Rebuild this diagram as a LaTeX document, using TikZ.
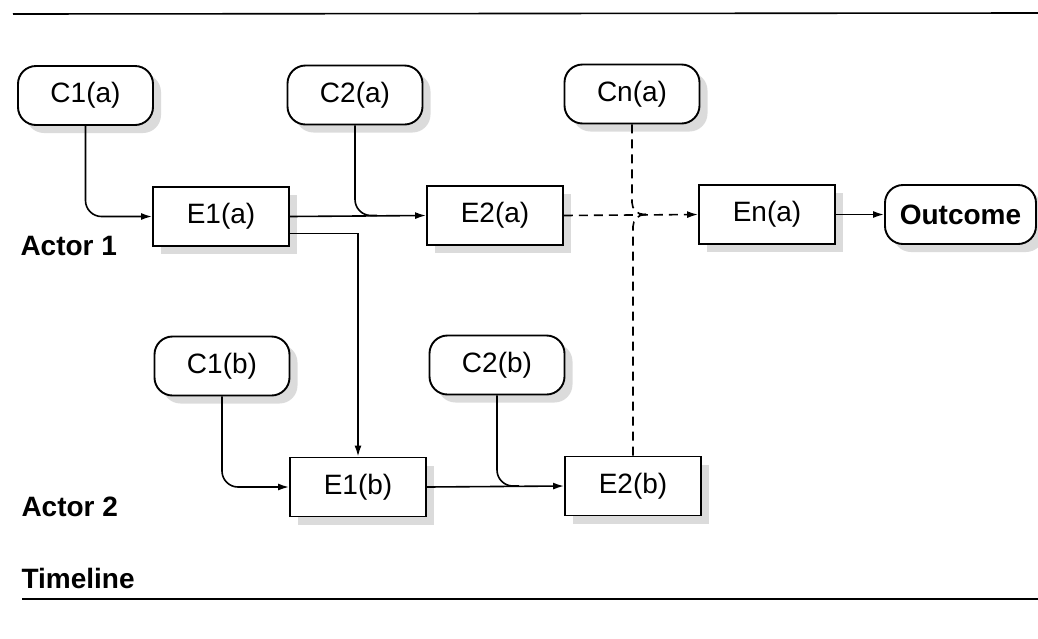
\documentclass[tikz,border=0pt]{standalone}
\usepackage{fontspec}
\setmainfont{Liberation Sans}
\usetikzlibrary{arrows.meta,shadows,calc}
\begin{document}
\begin{tikzpicture}[x=1pt,y=-1pt,
  font=\fontsize{28}{32}\selectfont,
  shad/.style={drop shadow={shadow xshift=8pt,shadow yshift=-8pt,fill=black!14,opacity=1}},
  cbox/.style={draw,line width=1.9pt,rounded corners=18pt,minimum width=135pt,minimum height=59pt,fill=white,shad},
  ebox/.style={draw,line width=1.9pt,minimum width=136pt,minimum height=59pt,fill=white,shad},
  lab/.style={anchor=west,font=\fontsize{28}{32}\selectfont\bfseries},
  conn/.style={line width=1.6pt},
  arr/.style={conn,-{Latex[length=11pt,width=7pt]}},
  dsh/.style={dash pattern=on 9pt off 6pt}
]
\useasboundingbox (0,0) rectangle (1038,638);
% rules
\coordinate (t1) at (13,14); \coordinate (t2) at (1038,13);
\coordinate (b1) at (22,599); \coordinate (b2) at (1038,599);
\draw[line width=1.6pt] (t1) -- (t2);
\draw[line width=1.6pt] (b1) -- (b2);
% nodes
\node[cbox] (c1a) at (85.5,95.5) {C1(a)};
\node[cbox] (c2a) at (355,95) {C2(a)};
\node[cbox] (cna) at (632,94) {Cn(a)};
\node[ebox] (e1a) at (221,216.5) {E1(a)};
\node[ebox] (e2a) at (495,215.5) {E2(a)};
\node[ebox] (ena) at (767,214.5) {En(a)};
\node[cbox,minimum width=151pt,font=\fontsize{28}{32}\selectfont\bfseries] (out) at (960.5,214.5) {Outcome};
\node[cbox] (c1b) at (222,366) {C1(b)};
\node[cbox] (c2b) at (497,365) {C2(b)};
\node[ebox] (e1b) at (358,487) {E1(b)};
\node[ebox] (e2b) at (633,486) {E2(b)};
\node[lab] (act1) at (17,246) {Actor 1};
\node[lab] (act2) at (18,507) {Actor 2};
\node[lab] (tl) at (18,578) {Timeline};
% connectors
\draw[arr,rounded corners=16pt] (c1a.south) |- (e1a.west);
\draw[arr] (e1a.east) -- (e2a.west);
\coordinate (m2a) at ($(c2a.south |- e2a.west)+(22,0)$);
\draw[conn,rounded corners=16pt] (c2a.south) |- (m2a);
\draw[arr] ([yshift=-17pt]e1a.east) -| (e1b.north);
\draw[arr,dsh] (e2a.east) -- (ena.west);
\coordinate (mna) at ($(cna.south |- ena.west)+(14,0)$);
\draw[conn,dsh,rounded corners=12pt] (cna.south) |- (mna);
\draw[conn,dsh,rounded corners=12pt] (e2b.north) |- (mna);
\draw[arr] (ena.east) -- (out.west);
\draw[arr,rounded corners=16pt] (c1b.south) |- (e1b.west);
\draw[arr] (e1b.east) -- (e2b.west);
\coordinate (m2b) at ($(c2b.south |- e2b.west)+(22,0)$);
\draw[conn,rounded corners=16pt] (c2b.south) |- (m2b);
\end{tikzpicture}
\end{document}
